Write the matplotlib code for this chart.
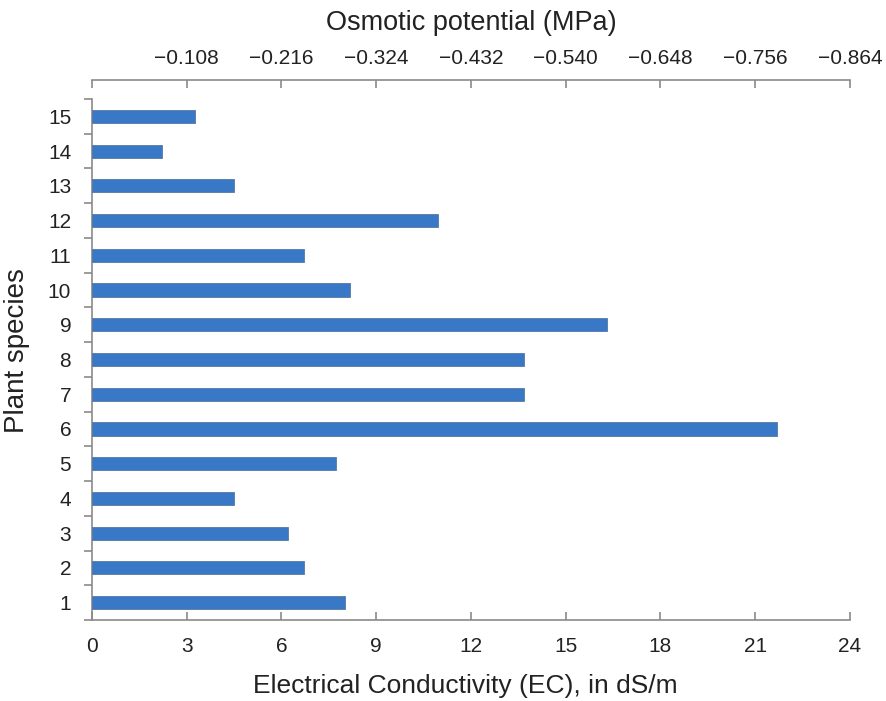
import matplotlib
matplotlib.use("Agg")
import matplotlib.pyplot as plt
import numpy as np

plt.rcParams['font.family'] = ['Liberation Sans', 'DejaVu Sans']

# Data
species = list(range(1, 16))
ec_values = [8.02, 6.72, 6.21, 4.5, 7.74, 21.7, 13.67, 13.67, 16.3, 8.18, 6.72, 10.97, 4.5, 2.22, 3.27]
ec_ticks = [0, 3, 6, 9, 12, 15, 18, 21, 24]
op_labels = ["", "\u22120.108", "\u22120.216", "\u22120.324", "\u22120.432",
             "\u22120.540", "\u22120.648", "\u22120.756", "\u22120.864"]

axis_grey = "#8a8a8a"
text_col = "#222222"

fig = plt.figure(figsize=(8.87, 7.01), dpi=100)
W, H = 887, 701
ax = fig.add_axes([92 / W, (H - 620) / H, (850 - 92) / W, (620 - 99) / H])

ax.barh(species, ec_values, height=0.38, color="#3878c6", edgecolor="#56789e", linewidth=0.6, zorder=3)

ax.set_xlim(0, 24)
ax.set_ylim(0.5, 15.5)
ax.set_xticks(ec_ticks)
ax.set_xticklabels([str(t) for t in ec_ticks])

# boundary ticks on y, labels in between
ax.set_yticks(np.arange(0.5, 16, 1))
ax.set_yticklabels([])
ax.set_yticks(species, minor=True)
ax.set_yticklabels([str(s) for s in species], minor=True)
ax.tick_params(axis="y", which="major", direction="out", length=6, width=1.2, color=axis_grey)
ax.tick_params(axis="y", which="minor", length=0, pad=15, labelsize=15, labelcolor=text_col)
ax.tick_params(axis="x", direction="in", length=6, width=1.2, color=axis_grey, pad=12,
               labelsize=15, labelcolor=text_col)

for s in ["top", "right"]:
    ax.spines[s].set_visible(False)
for s in ["left", "bottom"]:
    ax.spines[s].set_color(axis_grey)
    ax.spines[s].set_linewidth(1.2)

ax.set_xlabel("Electrical Conductivity (EC), in dS/m", fontsize=19, color=text_col)
ax.xaxis.set_label_coords(0.492, -0.104)
ax.set_ylabel("Plant species", fontsize=20, color=text_col)
ax.yaxis.set_label_coords(-0.082, 0.518)

# top axis: osmotic potential
ax2 = ax.twiny()
ax2.set_xlim(0, 24)
ax2.set_xticks(ec_ticks)
ax2.set_xticklabels(op_labels)
ax2.spines["top"].set_position(("outward", 14))
for s in ["bottom", "left", "right"]:
    ax2.spines[s].set_visible(False)
ax2.spines["top"].set_color(axis_grey)
ax2.spines["top"].set_linewidth(1.2)
ax2.tick_params(axis="x", direction="in", length=6, width=1.2, color=axis_grey, pad=8,
                labelsize=15, labelcolor=text_col)
ax2.set_xlabel("Osmotic potential (MPa)", fontsize=19.5, color=text_col, labelpad=14)

fig.savefig("out.png", dpi=100)
